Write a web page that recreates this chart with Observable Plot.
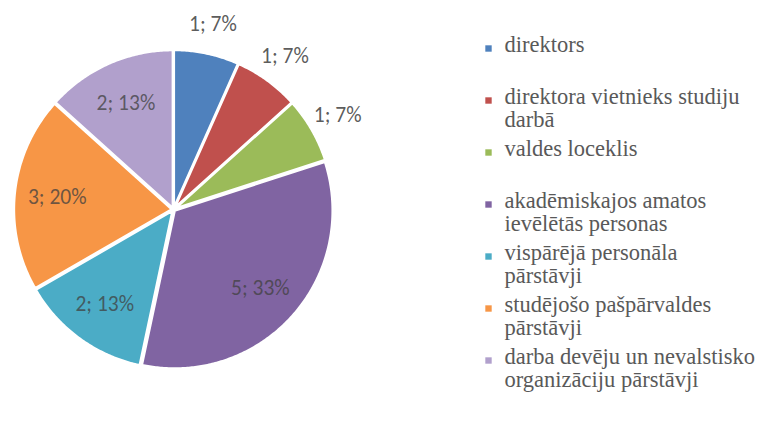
<!DOCTYPE html>
<html><head><meta charset="utf-8">
<script src="https://cdn.jsdelivr.net/npm/d3@7"></script>
<script src="https://cdn.jsdelivr.net/npm/@observablehq/plot@0.6"></script>
<style>
body{margin:0;background:#fff;}
#wrap{position:relative;width:768px;height:423px;overflow:hidden;background:#fff}
#chart{position:absolute;left:0;top:0}
#legend{position:absolute;left:484px;top:0}
</style></head>
<body><div id="wrap"><div id="chart"></div><div id="legend"></div></div>
<script>
const categories = [
  "direktors",
  "direktora vietnieks studiju darbā",
  "valdes loceklis",
  "akadēmiskajos amatos ievēlētās personas",
  "vispārējā personāla pārstāvji",
  "studējošo pašpārvaldes pārstāvji",
  "darba devēju un nevalstisko organizāciju pārstāvji"
];
// word where the legend entry wraps to a second line (as in the reference)
const legendBreaks = [null, "darbā", null, "ievēlētās", "pārstāvji", "pārstāvji", "organizāciju"];
const values = [1, 1, 1, 5, 2, 3, 2];
const colors = ["#4F81BD", "#C0504D", "#9BBB59", "#8064A2", "#4BACC6", "#F79646", "#B1A0CC"];

const total = d3.sum(values);
const arcs = d3.pie().sort(null).value(d => d)(values);

// Slice outlines in unit-circle coordinates
const pts = [];
const labelData = [];
arcs.forEach((a, i) => {
  const cat = categories[i];
  const mid = (a.startAngle + a.endAngle) / 2;
  const ox = 0.01 * Math.sin(mid), oy = 0.01 * Math.cos(mid);
  pts.push({cat, x: ox, y: oy});
  const n = Math.max(4, Math.ceil((a.endAngle - a.startAngle) / 0.01));
  for (let k = 0; k <= n; k++) {
    const t = a.startAngle + (a.endAngle - a.startAngle) * k / n;
    pts.push({cat, x: ox + Math.sin(t), y: oy + Math.cos(t)});
  }
  pts.push({cat, x: ox, y: oy});
  const inside = values[i] >= 2;
  const rr = inside ? 0.74 : 1.2;
  labelData.push({
    x: rr * Math.sin(mid),
    y: rr * Math.cos(mid),
    text: `${values[i]}; ${Math.round(values[i] / total * 100)}%`,
    inside
  });
});

const R = 158, cx = 173, cy = 209, W = 400, H = 423;
const chart = Plot.plot({
  width: W, height: H, margin: 0,
  style: {background: "transparent"},
  x: {domain: [-cx / R, (W - cx) / R], range: [0, W], axis: null},
  y: {domain: [-(H - cy) / R, cy / R], range: [H, 0], axis: null},
  color: {domain: categories, range: colors},
  marks: [
    Plot.line(pts, {x: "x", y: "y", z: "cat", fill: "cat", stroke: "white", strokeWidth: 2.5}),
    Plot.text(labelData, {x: "x", y: "y", text: "text", fontSize: 21.5,
      fontFamily: "Carlito, Liberation Sans, sans-serif",
      fill: "#404040", fillOpacity: d => d.inside ? 0.75 : 0.85})
  ]
});
document.getElementById("chart").appendChild(chart);

// Legend drawn as a second Plot (serif text, square swatches)
const legendData = categories.map((c, i) => {
  const b = legendBreaks[i];
  const k = b ? c.lastIndexOf(b) : -1;
  return {cat: c, label: k > 0 ? c.slice(0, k).trim() + "\n" + c.slice(k) : c};
});
const legend = Plot.plot({
  width: 284, height: H, margin: 0,
  style: {background: "transparent"},
  y: {type: "point", domain: categories, range: [20, 20 + 6 * 61.2], axis: null},
  color: {domain: categories, range: colors},
  marks: [
    Plot.dot(legendData, {y: "cat", fill: "cat", symbol: "square", r: 3.6,
      frameAnchor: "left", dx: 4}),
    Plot.text(legendData, {y: "cat", text: "label", frameAnchor: "left", dx: 20,
      textAnchor: "start", lineAnchor: "top", dy: -12, lineHeight: 1.0,
      fontSize: 22.5, fontFamily: "Liberation Serif, Times New Roman, serif",
      fill: "#595959"})
  ]
});
document.getElementById("legend").appendChild(legend);
</script>
</body></html>
